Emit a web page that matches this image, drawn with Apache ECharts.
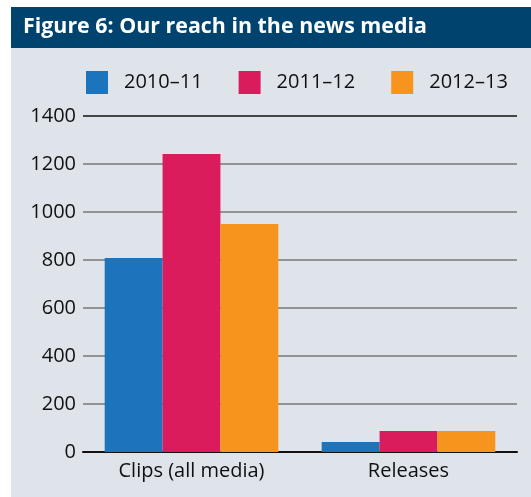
<!DOCTYPE html>
<html>
<head>
<meta charset="utf-8">
<script src="https://cdn.jsdelivr.net/npm/echarts@6/dist/echarts.min.js"></script>
<style>
  html, body { margin: 0; padding: 0; background: #ffffff; }
  #chart { width: 531px; height: 497px; }
</style>
</head>
<body>
<div id="chart"></div>
<script>
// Media reach by year
const categories = ['Clips (all media)', 'Releases'];
const years = ['2010–11', '2011–12', '2012–13'];
const values2010 = [808, 42];
const values2011 = [1242, 87];
const values2012 = [950, 87];
const yTicks = [0, 200, 400, 600, 800, 1000, 1200, 1400];

const colors = ['#1c75bc', '#da1c5c', '#f7941d'];
const FONT = '"Open Sans", sans-serif';

const chart = echarts.init(document.getElementById('chart'), null, { renderer: 'canvas' });

const seriesData = [values2010, values2011, values2012];

chart.setOption({
  animation: false,
  backgroundColor: '#ffffff',
  graphic: [
    { type: 'rect', z: -10, shape: { x: 11, y: 48, width: 520, height: 449 }, style: { fill: '#dfe3ea' } },
    { type: 'rect', z: -10, shape: { x: 11, y: 7, width: 520, height: 41 }, style: { fill: '#00436f' } }
  ],
  title: {
    text: 'Figure 6: Our reach in the news media',
    left: 23,
    top: 16,
    padding: 0,
    textStyle: { color: '#ffffff', fontSize: 21.4, fontWeight: 'bold', fontFamily: FONT }
  },
  legend: {
    data: years,
    left: 86,
    top: 71,
    padding: 0,
    itemWidth: 22,
    itemHeight: 23,
    itemGap: 36,
    icon: 'rect',
    textStyle: { fontSize: 20, color: '#111111', fontFamily: FONT, padding: [0, 0, 0, 11] }
  },
  grid: { left: 83, right: 14, top: 116, bottom: 45, containLabel: false },
  xAxis: {
    type: 'category',
    data: categories,
    axisLine: { lineStyle: { color: '#111111', width: 2 } },
    axisTick: { show: false },
    axisLabel: { fontSize: 20, color: '#111111', fontFamily: FONT, margin: 9 }
  },
  yAxis: {
    type: 'value',
    min: yTicks[0],
    max: yTicks[yTicks.length - 1],
    interval: 200,
    axisLine: { show: false },
    axisTick: { show: false },
    axisLabel: {
      fontSize: 20, color: '#111111', fontFamily: FONT, margin: 7,
      formatter: (v) => String(v)
    },
    splitLine: {
      lineStyle: {
        color: ['#111111', '#77787b', '#77787b', '#77787b', '#77787b', '#77787b', '#77787b', '#111111'],
        width: 1.5
      }
    }
  },
  series: years.map((name, i) => ({
    name: name,
    type: 'bar',
    data: seriesData[i],
    itemStyle: { color: colors[i] },
    barGap: '0%',
    barCategoryGap: '20%'
  }))
});
</script>
</body>
</html>
